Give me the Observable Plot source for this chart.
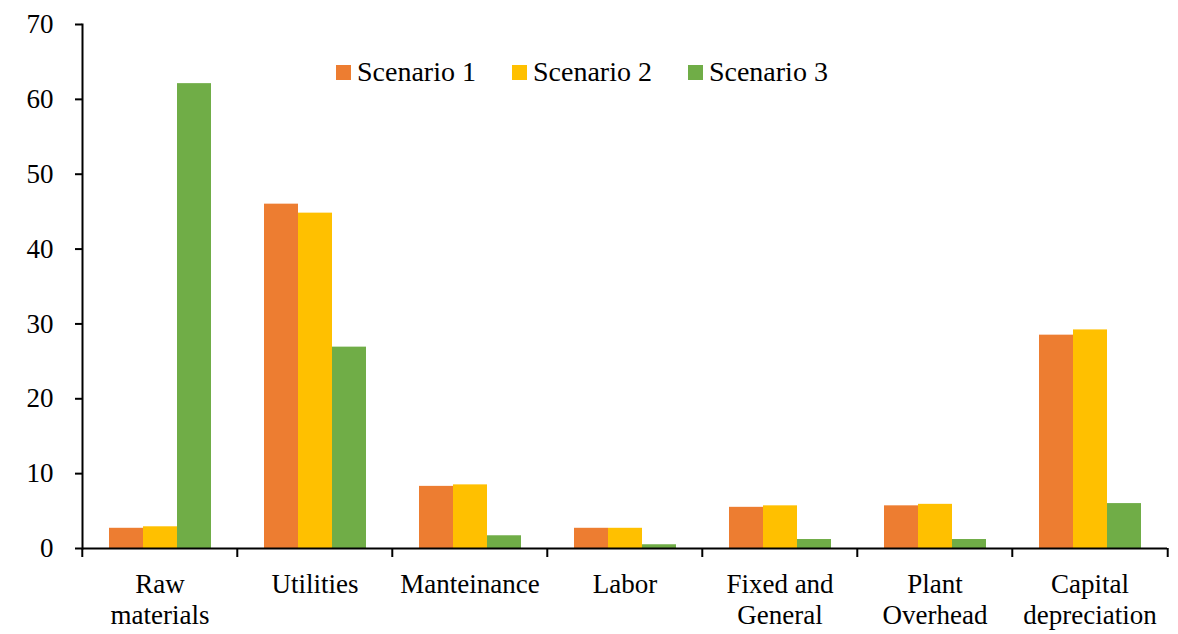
<!DOCTYPE html>
<html>
<head>
<meta charset="utf-8">
<script src="https://cdn.jsdelivr.net/npm/d3@7"></script>
<script src="https://cdn.jsdelivr.net/npm/@observablehq/plot@0.6"></script>
<style>
  html, body { margin: 0; padding: 0; background: #fff; }
  #chart { position: relative; width: 1178px; height: 634px; font-family: "Liberation Serif", "Times New Roman", serif; }
  #legend { position: absolute; top: 56px; left: 336px; display: flex; gap: 36px; font-size: 28px; color: #000; }
  #legend .item { display: flex; align-items: center; }
  #legend .swatch { width: 15px; height: 15px; margin-right: 6px; }
</style>
</head>
<body>
<div id="chart"><div id="legend"></div></div>
<script>
// Cost breakdown per category under three scenarios
const categories = ["Raw materials", "Utilities", "Manteinance", "Labor", "Fixed and General", "Plant Overhead", "Capital depreciation"];
const categoryLabels = ["Raw\nmaterials", "Utilities", "Manteinance", "Labor", "Fixed and\nGeneral", "Plant\nOverhead", "Capital\ndepreciation"];
const scenarios = ["Scenario 1", "Scenario 2", "Scenario 3"];
const scenario1 = [2.7, 46.0, 8.3, 2.7, 5.5, 5.7, 28.5];
const scenario2 = [2.9, 44.8, 8.5, 2.7, 5.7, 5.9, 29.2];
const scenario3 = [62.1, 26.9, 1.7, 0.5, 1.2, 1.2, 6.0];
const yTicks = [0, 10, 20, 30, 40, 50, 60, 70];
const colors = ["#ED7D31", "#FFC000", "#70AD47"];

const series = [scenario1, scenario2, scenario3];
const data = categories.flatMap((c, i) =>
  scenarios.map((s, j) => ({category: c, scenario: s, value: series[j][i]}))
);
const labelOf = new Map(categories.map((c, i) => [c, categoryLabels[i]]));

const width = 1178, height = 634;
const marginLeft = 80, marginRight = 10;
const band = (width - marginLeft - marginRight) / categories.length;

const plot = Plot.plot({
  width, height,
  marginLeft, marginRight, marginTop: 24, marginBottom: 86,
  style: {fontFamily: "'Liberation Serif', 'Times New Roman', serif", fontSize: "27px", color: "#000", background: "transparent"},
  fx: {domain: categories, padding: 0, label: null},
  x: {domain: scenarios, paddingInner: 0, paddingOuter: 0.72, axis: null},
  y: {domain: [0, 70], label: null},
  color: {domain: scenarios, range: colors},
  marks: [
    Plot.barY(data, {fx: "category", x: "scenario", y: "value", fill: "scenario"}),
    Plot.ruleY([0], {stroke: "#000", strokeWidth: 2}),
    Plot.frame({anchor: "left", facetAnchor: "left", stroke: "#000", strokeWidth: 2}),
    Plot.axisY({ticks: yTicks, tickSize: 7, tickPadding: 22, strokeWidth: 2, fontSize: 27, label: null}),
    // category names under each group
    Plot.axisFx({anchor: "bottom", tickSize: 0, tickPadding: 22, lineHeight: 1.15, fontSize: 27,
      tickFormat: (d) => labelOf.get(d), label: null}),
    // separator ticks on the left edge of each group
    Plot.axisFx({anchor: "bottom", tickSize: 9, strokeWidth: 2, tickFormat: () => "", dx: -band / 2, label: null}),
    // closing tick on the right edge of the last group
    Plot.axisFx({anchor: "bottom", ticks: [categories[categories.length - 1]], tickSize: 9, strokeWidth: 2,
      tickFormat: () => "", dx: band / 2, label: null})
  ]
});

document.getElementById("chart").appendChild(plot);

const legend = document.getElementById("legend");
scenarios.forEach((s, i) => {
  const item = document.createElement("div");
  item.className = "item";
  const sw = document.createElement("span");
  sw.className = "swatch";
  sw.style.background = colors[i];
  const label = document.createElement("span");
  label.textContent = s;
  item.append(sw, label);
  legend.appendChild(item);
});
</script>
</body>
</html>
